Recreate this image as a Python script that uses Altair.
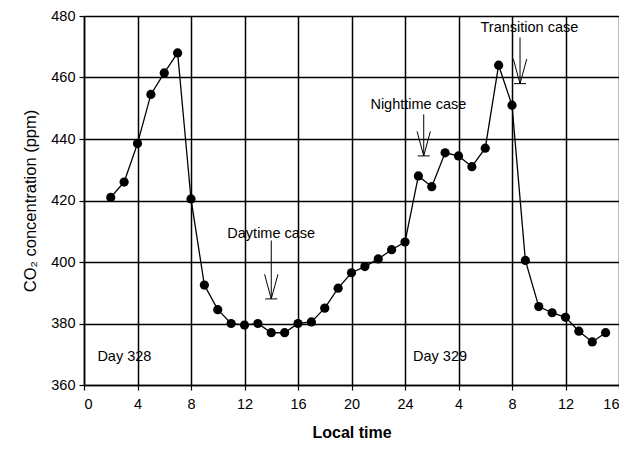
import altair as alt
import pandas as pd

hours = list(range(2, 40))
co2 = [421, 426, 438.5, 454.5, 461.5, 468, 420.5, 392.5, 384.5, 380, 379.5, 380,
       377, 377, 380, 380.5, 385, 391.5, 396.5, 398.5, 401, 404, 406.5,
       428, 424.5, 435.5, 434.5, 431, 437, 464, 451, 400.5, 385.5, 383.5, 382,
       377.5, 374, 377]

labels = ["Daytime case", "Nighttime case", "Transition case"]
label_x = [14.0, 25.0, 33.3]
label_y = [409, 451, 476]
arrow_x = [14.0, 25.4, 32.6]
arrow_top = [407, 448, 473]
arrow_tip = [388, 434.5, 458]

day_labels = ["Day 328", "Day 329"]
day_x = [1.0, 24.6]
day_y = [369, 369]

df = pd.DataFrame({"h": hours, "c": co2})

FONT = "Liberation Sans"
FS = 14.5
xs = alt.Scale(domain=[0, 40], nice=False)
ys = alt.Scale(domain=[360, 480], nice=False)

line = alt.Chart(df).mark_line(color="black", strokeWidth=1.3).encode(
    x=alt.X("h:Q", scale=xs,
            axis=alt.Axis(values=list(range(0, 41, 4)), title="Local time",
                          labelExpr="datum.value > 24 ? datum.value - 24 : datum.value",
                          grid=True, gridColor="black", gridWidth=1.5, gridOpacity=1,
                          domainColor="black", domainWidth=1.5,
                          tickColor="black", tickSize=5, tickWidth=1.2,
                          labelFont=FONT, labelFontSize=FS, labelColor="black", labelPadding=7,
                          titleFont=FONT, titleFontSize=16, titleFontWeight="bold",
                          titleColor="black", titlePadding=14)),
    y=alt.Y("c:Q", scale=ys,
            axis=alt.Axis(values=list(range(360, 481, 20)), title="CO₂ concentration (ppm)",
                          grid=True, gridColor="black", gridWidth=1.5, gridOpacity=1,
                          domainColor="black", domainWidth=1.5,
                          tickColor="black", tickSize=5, tickWidth=1.2,
                          labelFont=FONT, labelFontSize=FS, labelColor="black", labelPadding=4,
                          titleFont=FONT, titleFontSize=16.5, titleFontWeight="normal",
                          titleColor="black", titlePadding=12)),
)
pts = alt.Chart(df).mark_point(filled=True, color="black", size=85, opacity=1).encode(
    x=alt.X("h:Q", scale=xs), y=alt.Y("c:Q", scale=ys))

ann = pd.DataFrame({"t": labels, "x": label_x, "y": label_y})
ann_text = alt.Chart(ann).mark_text(font=FONT, fontSize=FS, color="black", align="center",
                                    baseline="middle").encode(
    x=alt.X("x:Q", scale=xs), y=alt.Y("y:Q", scale=ys), text="t:N")

arr = pd.DataFrame({"x": arrow_x, "top": arrow_top, "tip": arrow_tip})
arr["headl"] = arr["x"] - 0.5
arr["headr"] = arr["x"] + 0.5
arr["heady"] = arr["tip"] + 8
arr["barl"] = arr["x"] - 0.45
arr["barr"] = arr["x"] + 0.45

shaft = alt.Chart(arr).mark_rule(color="black", strokeWidth=1).encode(
    x=alt.X("x:Q", scale=xs), y=alt.Y("top:Q", scale=ys), y2="tip:Q")
head_l = alt.Chart(arr).mark_rule(color="black", strokeWidth=1).encode(
    x=alt.X("headl:Q", scale=xs), x2="x:Q", y=alt.Y("heady:Q", scale=ys), y2="tip:Q")
head_r = alt.Chart(arr).mark_rule(color="black", strokeWidth=1).encode(
    x=alt.X("headr:Q", scale=xs), x2="x:Q", y=alt.Y("heady:Q", scale=ys), y2="tip:Q")
bar = alt.Chart(arr).mark_rule(color="black", strokeWidth=1).encode(
    x=alt.X("barl:Q", scale=xs), x2="barr:Q", y=alt.Y("tip:Q", scale=ys))

days = pd.DataFrame({"t": day_labels, "x": day_x, "y": day_y})
day_text = alt.Chart(days).mark_text(font=FONT, fontSize=FS, color="black", align="left",
                                     baseline="middle").encode(
    x=alt.X("x:Q", scale=xs), y=alt.Y("y:Q", scale=ys), text="t:N")

chart = alt.layer(line, pts, ann_text, shaft, head_l, head_r, bar, day_text).properties(
    width=535, height=369,
    autosize=alt.AutoSizeParams(type="none"),
    padding={"left": 76, "top": 8, "right": 0, "bottom": 56},
).configure_view(stroke="black", strokeWidth=1.5).configure(background="white")

chart.save("out.html", embed_options={"renderer": "svg", "actions": False})
